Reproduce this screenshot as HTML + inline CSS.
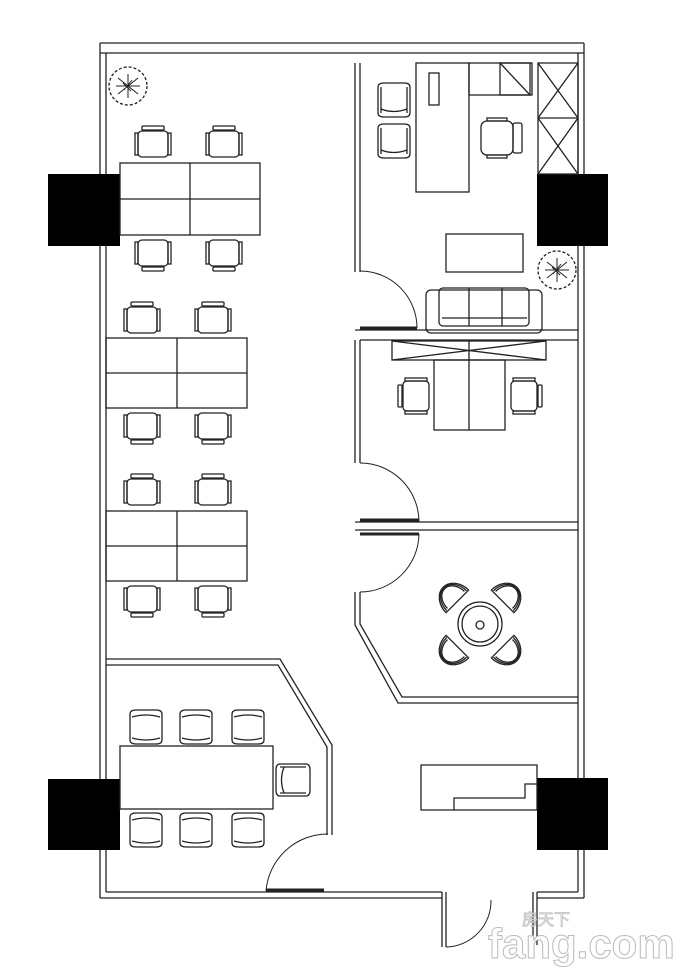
<!DOCTYPE html>
<html><head><meta charset="utf-8"><style>html,body{margin:0;padding:0;background:#fff}svg{display:block}</style></head>
<body>
<svg width="684" height="976" viewBox="0 0 684 976" xmlns="http://www.w3.org/2000/svg" fill="none" stroke="#222" stroke-width="1.3">
<defs>
<g id="ch"><rect x="3" y="5" width="30" height="26" rx="4"/><rect x="0" y="7" width="3" height="22"/><rect x="33" y="7" width="3" height="22"/><rect x="7" y="0" width="22" height="4" rx="1"/></g>
<g id="ch2"><rect x="3" y="0" width="30" height="26" rx="4"/><rect x="0" y="2" width="3" height="22"/><rect x="33" y="2" width="3" height="22"/><rect x="7" y="27" width="22" height="4" rx="1"/></g>
<g id="arm"><path d="M2 4 Q2 0 8 0 L28 0 Q34 0 34 4 L34 30 Q34 34 28 34 L8 34 Q2 34 2 30 Z"/><path d="M4 7 Q18 3 32 7 M4 28 Q18 32 32 28"/></g>
<g id="arm2"><path d="M2 4 Q2 0 8 0 L28 0 Q34 0 34 4 L34 30 Q34 34 28 34 L8 34 Q2 34 2 30 Z"/><path d="M5 4 L5 30 M31 4 L31 30 M5 26 Q18 31 31 26"/></g>
<g id="rch"><path d="M-16 -32 L16 -32 A16 20 0 0 0 -16 -32 Z"/><path d="M-12 -34 A12 16 0 0 1 12 -34"/><path d="M-14 -33 A14 18 0 0 1 14 -33"/></g>
<g id="plant"><circle r="19" stroke-dasharray="3 2"/><path d="M-10 -8 L10 8 M-10 8 L10 -8 M0 -12 L0 12 M-12 0 L12 0 M-5 -3 L3 5 M4 -6 L-4 4" stroke-width="1"/></g>
</defs>
<!-- outer walls -->
<path d="M100 43 H584 M100 53 H584"/>
<path d="M100 43 V898 M106 53 V892"/>
<path d="M584 43 V898 M578 53 V892"/>
<path d="M100 898 H442 M106 892 H442 M537 898 H584 M537 892 H578"/>
<path d="M442 892 V947 M446 892 V947 M537 892 V945 M533 892 V945"/>
<path d="M446 947 A46 46 0 0 0 491 900" stroke-width="1"/>
<!-- columns -->
<g fill="#000" stroke="none">
<rect x="48" y="174" width="72" height="72"/><rect x="537" y="174" width="71" height="72"/>
<rect x="48" y="779" width="72" height="71"/><rect x="537" y="778" width="71" height="72"/>
</g>
<!-- office 1 -->
<path d="M355 63 V272 M360 63 V272"/>
<path d="M360 271 A57 57 0 0 1 417 328" stroke-width="1"/>
<path d="M360 328 H417" stroke-width="3"/>
<path d="M355 330 H578 M360 340 H578"/>
<rect x="538" y="63" width="40" height="111"/><path d="M538 118 H578 M538 63 L578 118 M578 63 L538 118 M538 118 L578 174 M578 118 L538 174"/>
<rect x="416" y="63" width="53" height="129"/><rect x="429" y="73" width="10" height="32"/>
<rect x="469" y="63" width="63" height="32"/><rect x="500" y="63" width="30" height="32"/><path d="M500 63 L530 95"/>
<use href="#arm2" x="376" y="83"/><use href="#arm2" x="376" y="124"/>
<g transform="translate(481,118)"><rect x="0" y="3" width="32" height="34" rx="6"/><rect x="32" y="5" width="9" height="30" rx="2"/><rect x="6" y="0" width="20" height="3"/><rect x="6" y="37" width="20" height="3"/></g>
<rect x="446" y="234" width="77" height="38"/>
<rect x="426" y="290" width="116" height="43" rx="5"/><rect x="439" y="288" width="90" height="38" rx="4"/><path d="M469 288 V326 M502 288 V326 M442 318 H527"/>
<use href="#plant" x="557" y="270"/><use href="#plant" x="128" y="86"/>
<!-- office 2 -->
<path d="M355 340 V463 M360 340 V463"/>
<rect x="392" y="341" width="154" height="19"/><path d="M469 341 V360 M392 341 L546 360 M546 341 L392 360"/>
<rect x="434" y="360" width="71" height="70"/><path d="M469 360 V430"/>
<g transform="translate(398,378) rotate(-90 18 18)"><use href="#ch"/></g>
<g transform="translate(506,378) rotate(90 18 18)"><use href="#ch"/></g>
<path d="M360 463 A59 59 0 0 1 419 522" stroke-width="1"/>
<path d="M360 520 H419 M360 534 H419" stroke-width="3"/>
<path d="M355 522 H578 M355 530 H578"/>
<path d="M360 592 A59 59 0 0 0 419 534" stroke-width="1"/>
<!-- room 3 -->
<path d="M355 592 V625 L398 703 H578 M360 592 V624 L402 697 H578"/>
<circle cx="480" cy="624" r="22"/><circle cx="480" cy="624" r="18"/><circle cx="480" cy="625" r="4"/>
<g transform="translate(480,624)">
<use href="#rch" transform="rotate(45)"/>
<use href="#rch" transform="rotate(135)"/>
<use href="#rch" transform="rotate(-45)"/>
<use href="#rch" transform="rotate(-135)"/>
</g>
<!-- reception -->
<path d="M421 765 H537 V810 H421 Z M454 810 V798 H525 V784 H537"/>
<!-- meeting room -->
<path d="M106 659 H280 L332 745 V835 M106 665 H278 L327 747 V835"/>
<path d="M328 834 A62 62 0 0 0 266 891" stroke-width="1"/>
<path d="M266 890 H324" stroke-width="3"/>
<rect x="120" y="746" width="153" height="63"/>
<use href="#arm" x="128" y="710"/><use href="#arm" x="178" y="710"/><use href="#arm" x="230" y="710"/>
<use href="#arm" x="128" y="813"/><use href="#arm" x="178" y="813"/><use href="#arm" x="230" y="813"/>
<g transform="translate(276,762)"><use href="#arm2" transform="rotate(90 17 17)"/></g>
<!-- open desks -->
<rect x="120" y="163" width="140" height="72"/><path d="M190 163 V235 M120 199 H260"/>
<use href="#ch" x="135" y="126"/><use href="#ch" x="206" y="126"/><use href="#ch2" x="135" y="240"/><use href="#ch2" x="206" y="240"/>
<rect x="106" y="338" width="141" height="70"/><path d="M177 338 V408 M106 373 H247"/>
<use href="#ch" x="124" y="302"/><use href="#ch" x="195" y="302"/><use href="#ch2" x="124" y="413"/><use href="#ch2" x="195" y="413"/>
<rect x="106" y="511" width="141" height="70"/><path d="M177 511 V581 M106 546 H247"/>
<use href="#ch" x="124" y="474"/><use href="#ch" x="195" y="474"/><use href="#ch2" x="124" y="586"/><use href="#ch2" x="195" y="586"/>
<!-- watermark -->
<text x="522" y="925" font-family="Liberation Sans, 'Noto Sans CJK SC', sans-serif" font-size="16" fill="#fff" stroke="#bbb" stroke-width="0.8">房天下</text>
<text x="488" y="958" font-family="Liberation Sans, sans-serif" font-size="42" font-weight="bold" fill="#fff" stroke="#bbb" stroke-width="1">fang.com</text>
</svg>
</body></html>
